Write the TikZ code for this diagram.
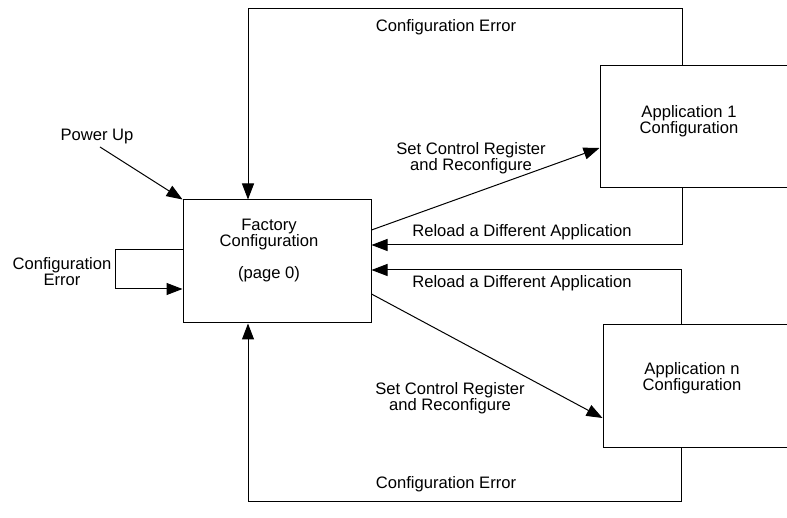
\documentclass[tikz,border=0pt]{standalone}
\usepackage{fontspec}
\setmainfont{Liberation Sans}
\usetikzlibrary{arrows.meta}
\tikzset{
  cfgbox/.style={rectangle,draw,line width=1pt,minimum width=200pt,minimum height=122pt},
  cfgtext/.style={inner sep=0pt,align=center,font=\fontsize{16.6}{16}\selectfont},
  flow/.style={line width=1pt,-{Triangle[length=16pt,width=12pt]}}
}
\begin{document}
\begin{tikzpicture}[x=1pt,y=-1pt]
  \useasboundingbox (0,0) rectangle (787,518);
  \clip (0,0) rectangle (787,518);
  % draw factory box
  \node at(277,261.5)[cfgbox,minimum width=188pt,minimum height=123pt](factory){};
  \node at(269,251)[cfgtext](factorytxt){Factory\\Configuration\\\\(page 0)};
  % draw application boxes
  \node at(700,127)[cfgbox](app1){};
  \node at(689,121)[cfgtext](app1txt){Application 1\\Configuration};
  \node at(703,386)[cfgbox](appn){};
  \node at(692,378)[cfgtext](appntxt){Application n\\Configuration};
  % draw power up arrow
  \coordinate (power) at(100,147);
  \node at(97,137)[cfgtext](powertxt){Power Up};
  \draw [flow](power) -- (factory.north west);
  % draw self loop
  \node at(62,272)[cfgtext](selferr){Configuration\\Error};
  \draw [flow]([yshift=11.5pt]factory.west) -- ++(-67,0) |- ([yshift=-27.5pt]factory.west);
  % draw top error loop
  \node at(446,27)[cfgtext](toperr){Configuration Error};
  \draw [flow]([xshift=-18pt]app1.north) -- ++(0,-57) -| ([xshift=-29pt]factory.north);
  % draw bottom error loop
  \node at(446,484)[cfgtext](boterr){Configuration Error};
  \draw [flow]([xshift=-22pt]appn.south) -- ++(0,54) -| ([xshift=-29pt]factory.south);
  % draw set control arrows
  \node at(471,158)[cfgtext](set1){Set Control Register\\and Reconfigure};
  \draw [flow]([yshift=31.5pt]factory.east) -- ([yshift=-21pt]app1.west);
  \node at(450,398)[cfgtext](setn){Set Control Register\\and Reconfigure};
  \draw [flow]([yshift=-32.5pt]factory.east) -- ([yshift=-32pt]appn.west);
  % draw reload arrows
  \node at(522,232)[cfgtext](reload1){Reload a Different Application};
  \draw [flow]([xshift=-18pt]app1.south) |- ([yshift=16.5pt]factory.east);
  \node at(522,283)[cfgtext](reloadn){Reload a Different Application};
  \draw [flow]([xshift=-22pt]appn.north) |- ([yshift=-8.5pt]factory.east);
\end{tikzpicture}
\end{document}
